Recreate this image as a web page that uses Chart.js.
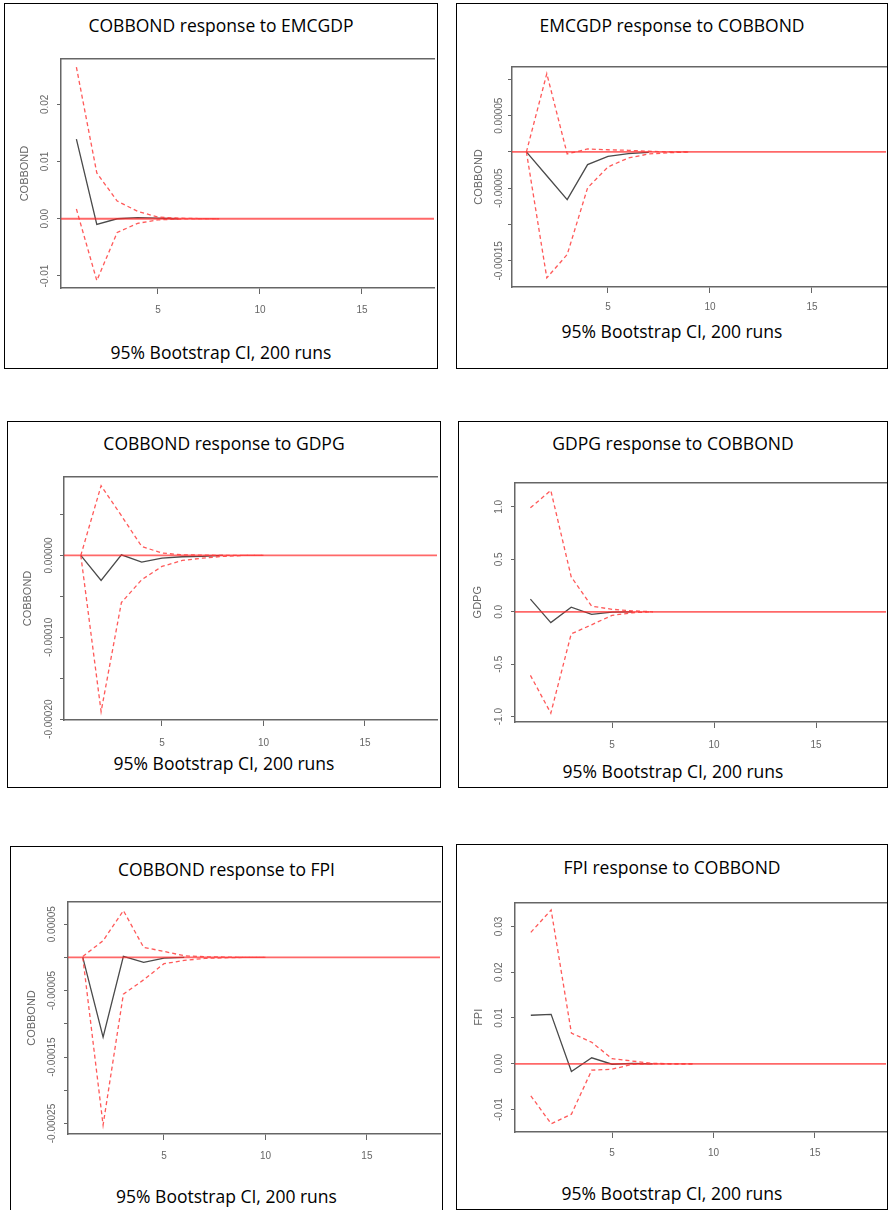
<!DOCTYPE html>
<html>
<head>
<meta charset="utf-8">
<script src="https://cdn.jsdelivr.net/npm/chart.js@4.4.1/dist/chart.umd.min.js"></script>
<style>
  html, body { margin: 0; padding: 0; background: #fff; }
  #page { position: relative; width: 888px; height: 1210px; overflow: hidden; }
  .box { position: absolute; border: 1.5px solid #000; box-sizing: border-box; }
  .label { position: absolute; text-align: center; font-family: 'Open Sans', sans-serif; font-size: 17.5px; line-height: 20px; color: #000; white-space: nowrap; }
  canvas { position: absolute; }
</style>
</head>
<body>
<div id="page"></div>
<script>
// horizons of the impulse responses and shared axis ticks
const horizons = [1, 2, 3, 4, 5, 6, 7, 8, 9, 10];
const xTicks = [5, 10, 15];
const caption = '95% Bootstrap CI, 200 runs';

// COBBOND response to EMCGDP
const cobEmcIrf = [0.0139, -0.0010, 0.0000, 0.0002, 0.0001, 0.0000];
const cobEmcUpper = [0.0265, 0.0080, 0.0031, 0.0013, 0.0003, 0.0001, 0.00003, 0];
const cobEmcLower = [0.0017, -0.0108, -0.0024, -0.0008, -0.0002, -0.00005, 0, 0];
const cobEmcTicks = [-0.01, 0, 0.01, 0.02];
const cobEmcLabels = ['-0.01', '0.00', '0.01', '0.02'];

// EMCGDP response to COBBOND
const emcCobIrf = [0, -0.0000328, -0.0000656, -0.0000174, -0.0000060, -0.0000023, -0.0000005];
const emcCobUpper = [0, 0.0001078, -0.0000028, 0.0000041, 0.0000030, 0.0000023, 0.0000010, 0, 0];
const emcCobLower = [0, -0.0001734, -0.0001413, -0.0000495, -0.0000206, -0.0000083, -0.0000028, -0.0000010, 0];
const emcCobTicks = [-0.00015, -0.0001, -0.00005, 0, 0.00005, 0.0001];
const emcCobLabels = ['-0.00015', '', '-0.00005', '', '0.00005', ''];

// COBBOND response to GDPG
const cobGdpIrf = [0, -0.0000306, 0.0000008, -0.0000082, -0.0000033, -0.0000016, -0.0000012, 0];
const cobGdpUpper = [0, 0.0000852, 0.0000485, 0.0000110, 0.0000029, 0.0000008, 0.0000004, 0, 0, 0];
const cobGdpLower = [0, -0.0001907, -0.0000575, -0.0000297, -0.0000134, -0.0000061, -0.0000033, -0.0000012, 0, 0];
const cobGdpTicks = [-0.0002, -0.00015, -0.0001, -0.00005, 0, 0.00005];
const cobGdpLabels = ['-0.00020', '', '-0.00010', '', '0.00000', ''];

// GDPG response to COBBOND
const gdpCobIrf = [0.121, -0.103, 0.044, -0.025, -0.003, 0];
const gdpCobUpper = [0.992, 1.157, 0.333, 0.053, 0.024, 0.009, 0];
const gdpCobLower = [-0.606, -0.967, -0.211, -0.124, -0.034, -0.009, 0];
const gdpCobTicks = [-1, -0.5, 0, 0.5, 1];
const gdpCobLabels = ['-1.0', '-0.5', '0.0', '0.5', '1.0'];

// COBBOND response to FPI
const cobFpiIrf = [0, -0.0001201, 0.0000015, -0.0000075, -0.0000010, 0];
const cobFpiUpper = [0.0000015, 0.0000251, 0.0000704, 0.0000151, 0.0000090, 0.0000025, 0.0000010, 0.0000005, 0, 0];
const cobFpiLower = [0, -0.0002523, -0.0000553, -0.0000337, -0.0000095, -0.0000045, -0.0000015, -0.0000005, 0, 0];
const cobFpiTicks = [-0.00025, -0.0002, -0.00015, -0.0001, -0.00005, 0, 0.00005];
const cobFpiLabels = ['-0.00025', '', '-0.00015', '', '-0.00005', '', '0.00005'];

// FPI response to COBBOND
const fpiCobIrf = [0.0106, 0.0108, -0.0017, 0.0013, -0.0001, 0.0001, 0];
const fpiCobUpper = [0.0287, 0.0336, 0.0067, 0.0047, 0.0011, 0.0006, 0.0001, 0, 0];
const fpiCobLower = [-0.0070, -0.0131, -0.0110, -0.0014, -0.0012, -0.0001, 0, 0, 0];
const fpiCobTicks = [-0.01, 0, 0.01, 0.02, 0.03];
const fpiCobLabels = ['-0.01', '0.00', '0.01', '0.02', '0.03'];

// layout: box = panel frame, plot = l/t/r/b of plot region (px)
const panels = [
  { title: 'COBBOND response to EMCGDP', yTitle: 'COBBOND',
    irf: cobEmcIrf, upper: cobEmcUpper, lower: cobEmcLower, yTicks: cobEmcTicks, yLabels: cobEmcLabels,
    xRange: [0.245, 18.53], yRange: [-0.0121, 0.0279],
    box: [5, 4, 437, 368], plot: [61, 57, 434, 288], titleY: 25, captionY: 352, yTitleX: 25, yTickX: 45.5, xLabelY: 310 },
  { title: 'EMCGDP response to COBBOND', yTitle: 'COBBOND',
    irf: emcCobIrf, upper: emcCobUpper, lower: emcCobLower, yTicks: emcCobTicks, yLabels: emcCobLabels,
    xRange: [0.294, 18.63], yRange: [-0.000186, 0.000117],
    box: [457, 4, 887, 368], plot: [512, 67, 886, 287], titleY: 25, captionY: 331, yTitleX: 479, yTickX: 499, xLabelY: 307 },
  { title: 'COBBOND response to GDPG', yTitle: 'COBBOND',
    irf: cobGdpIrf, upper: cobGdpUpper, lower: cobGdpLower, yTicks: cobGdpTicks, yLabels: cobGdpLabels,
    xRange: [0.172, 18.55], yRange: [-0.000201, 0.0000958],
    box: [8, 422, 440, 787], plot: [64, 477, 437, 720], titleY: 443, captionY: 763, yTitleX: 28, yTickX: 49, xLabelY: 743 },
  { title: 'GDPG response to COBBOND', yTitle: 'GDPG',
    irf: gdpCobIrf, upper: gdpCobUpper, lower: gdpCobLower, yTicks: gdpCobTicks, yLabels: gdpCobLabels,
    xRange: [0.245, 18.43], yRange: [-1.051, 1.234],
    box: [459, 422, 887, 787], plot: [515, 477, 886, 722], titleY: 443, captionY: 771, yTitleX: 478, yTickX: 499, xLabelY: 745 },
  { title: 'COBBOND response to FPI', yTitle: 'COBBOND',
    irf: cobFpiIrf, upper: cobFpiUpper, lower: cobFpiLower, yTicks: cobFpiTicks, yLabels: cobFpiLabels,
    xRange: [0.271, 18.6], yRange: [-0.0002658, 0.0000834],
    box: [11, 847, 442, 1216], plot: [68, 902, 440, 1134], titleY: 869, captionY: 1196, yTitleX: 32, yTickX: 52, xLabelY: 1156 },
  { title: 'FPI response to COBBOND', yTitle: 'FPI',
    irf: fpiCobIrf, upper: fpiCobUpper, lower: fpiCobLower, yTicks: fpiCobTicks, yLabels: fpiCobLabels,
    xRange: [0.22, 18.5], yRange: [-0.0149, 0.0352],
    box: [457, 845, 887, 1209], plot: [515, 900, 886, 1132], titleY: 867, captionY: 1193, yTitleX: 479, yTickX: 499, xLabelY: 1153 },
];

const page = document.getElementById('page');
const fontFamily = "'Liberation Sans', Arial, sans-serif";
const axisFont = { family: fontFamily, size: 10 };
const axisTitleFont = { family: fontFamily, size: 11 };
const axisGrey = '#666';
const ciRed = 'rgba(255, 60, 60, 0.85)';
const zeroRed = 'rgba(255, 40, 40, 0.7)';
const measure = document.createElement('canvas').getContext('2d');
measure.font = '10px ' + fontFamily;

function addText(text, left, right, cy) {
  const d = document.createElement('div');
  d.className = 'label';
  d.textContent = text;
  d.style.left = left + 'px';
  d.style.width = (right - left) + 'px';
  d.style.top = (cy - 10) + 'px';
  page.appendChild(d);
}

const toPoints = arr => arr.map((v, k) => ({ x: horizons[k], y: v }));

panels.forEach(p => {
  const [bl, bt, br, bb] = p.box;
  const [L, T, R, B] = p.plot;

  const frame = document.createElement('div');
  frame.className = 'box';
  frame.style.left = (bl - 0.75) + 'px';
  frame.style.top = (bt - 0.75) + 'px';
  frame.style.width = (br - bl + 1.5) + 'px';
  frame.style.height = (bb - bt + 1.5) + 'px';
  page.appendChild(frame);
  addText(p.title, bl, br, p.titleY);
  addText(caption, bl, br, p.captionY);

  const cLeft = bl + 2, cTop = T - 4;
  const cw = R + 2 - cLeft, ch = B - T + 4 + 30;
  const canvas = document.createElement('canvas');
  canvas.width = cw;
  canvas.height = ch;
  canvas.style.left = cLeft + 'px';
  canvas.style.top = cTop + 'px';
  canvas.style.width = cw + 'px';
  canvas.style.height = ch + 'px';
  page.appendChild(canvas);

  const yAxisW = L - cLeft;
  const widest = Math.max(...p.yLabels.map(s => measure.measureText(s).width));
  const yPad = L - 4 - widest / 2 - p.yTickX;
  const xPad = p.xLabelY - B - 6 - 6;
  const yTitlePad = p.yTitleX - cLeft - 6.6;

  new Chart(canvas.getContext('2d'), {
    type: 'line',
    data: {
      datasets: [
        { data: toPoints(p.upper), borderColor: ciRed, borderWidth: 1.3, borderDash: [4, 3] },
        { data: toPoints(p.lower), borderColor: ciRed, borderWidth: 1.3, borderDash: [4, 3] },
        { data: [{ x: p.xRange[0], y: 0 }, { x: p.xRange[1], y: 0 }], borderColor: zeroRed, borderWidth: 1.8 },
        { data: toPoints(p.irf), borderColor: '#4a4a4a', borderWidth: 1.3 },
      ],
    },
    options: {
      responsive: false,
      animation: false,
      devicePixelRatio: 1,
      layout: { padding: { top: 4, right: 2, left: 0, bottom: 0 } },
      elements: { point: { radius: 0 }, line: { tension: 0 } },
      plugins: { legend: { display: false }, tooltip: { enabled: false } },
      scales: {
        x: {
          type: 'linear',
          min: p.xRange[0],
          max: p.xRange[1],
          afterBuildTicks: s => { s.ticks = xTicks.map(v => ({ value: v })); },
          afterFit: s => { s.height = 30; },
          ticks: { font: axisFont, color: axisGrey, padding: xPad, autoSkip: false, minRotation: 0, maxRotation: 0, callback: v => String(v) },
          grid: { drawOnChartArea: false, tickLength: 6, color: axisGrey },
          border: { color: axisGrey, width: 1.5 },
        },
        top: {
          type: 'linear',
          position: 'top',
          afterFit: s => { s.height = 0; },
          ticks: { display: false },
          grid: { display: false, drawTicks: false },
          border: { color: axisGrey, width: 1.5 },
        },
        y: {
          type: 'linear',
          min: p.yRange[0],
          max: p.yRange[1],
          afterBuildTicks: s => { s.ticks = p.yTicks.map(v => ({ value: v })); },
          afterFit: s => { s.width = yAxisW; },
          ticks: { font: axisFont, color: axisGrey, padding: yPad, autoSkip: false, minRotation: 90, maxRotation: 90, crossAlign: 'center', callback: (v, k) => p.yLabels[k] },
          grid: { drawOnChartArea: false, tickLength: 4, color: axisGrey },
          border: { color: axisGrey, width: 1.5 },
          title: { display: true, text: p.yTitle, font: axisTitleFont, color: axisGrey, padding: { top: yTitlePad, bottom: 0 } },
        },
      },
    },
  });
});
</script>
</body>
</html>
